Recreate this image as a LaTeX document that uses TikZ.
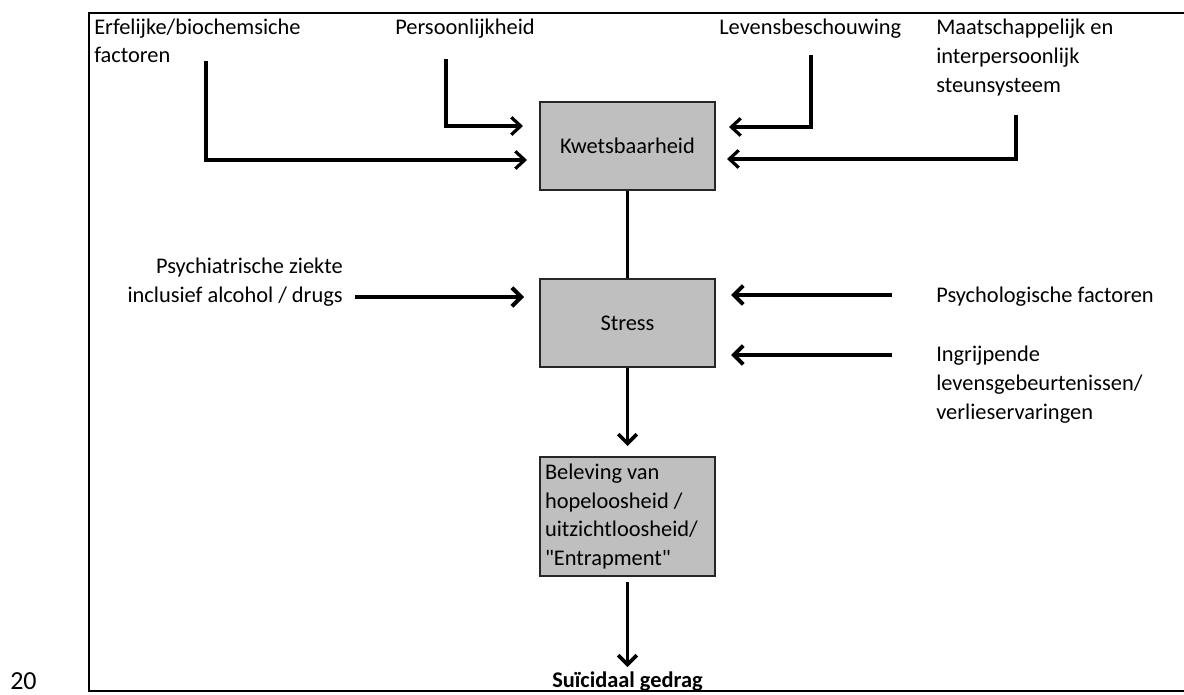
\documentclass[tikz,border=0pt]{standalone}
\usepackage{fontspec}
\setmainfont{Carlito}
\usetikzlibrary{arrows.meta,calc}
\begin{document}
\begin{tikzpicture}[x=0.75pt,y=-0.75pt,
  txt/.style={inner sep=0pt, font=\fontsize{16.8pt}{21.75pt}\selectfont},
  lbl/.style={txt, anchor=base west},
  lblr/.style={txt, anchor=base east},
  box/.style={draw=black!85, line width=1.5pt, fill=gray!50, minimum width=131.25pt,
    inner sep=0pt, font=\fontsize{16.8pt}{21.75pt}\selectfont},
  thinarr/.style={line width=2.4pt, -{Straight Barb[length=7pt,width=13pt]}},
  thickarr/.style={line width=3pt, -{Straight Barb[length=7pt,width=14pt]}},
  vertarr/.style={line width=2.7pt, -{Straight Barb[length=7pt,width=14pt]}}]
\useasboundingbox (0,0) rectangle (1184,695);
\fill[white] (0,0) rectangle (1184,695);
% frame
\draw[line width=1.5pt] (89,13) rectangle (1195,691);
% boxes
\node[box, minimum height=66pt] (kwets) at (627.5,146) {Kwetsbaarheid};
\node[box, minimum height=66pt] (stress) at (627.5,323) {Stress};
\node[box, minimum height=89.25pt, text width=123.75pt, inner xsep=3.75pt, align=flush left,
  font=\fontsize{16.8pt}{21.4pt}\selectfont] (bel) at (627.5,516.5)
  {Beleving van\\hopeloosheid /\\uitzichtloosheid/\\\textquotedbl Entrapment\textquotedbl};
\node[txt, anchor=base, font=\fontsize{16.8pt}{21.75pt}\selectfont\bfseries] (suic) at (627.5,687) {Suïcidaal gedrag};
% labels
\node[lbl] (erf1) at (94,35) {Erfelijke/biochemsiche};
\node[lbl] (erf2) at (94,63) {factoren};
\node[lbl] (per) at (395,35) {Persoonlijkheid};
\node[lbl] (lev) at (719,35) {Levensbeschouwing};
\node[lbl] (maa1) at (936,35) {Maatschappelijk en};
\node[lbl] (maa2) at (936,64) {interpersoonlijk};
\node[lbl] (maa3) at (936,93) {steunsysteem};
\node[lblr] (psy1) at (343,273) {Psychiatrische ziekte};
\node[lblr] (psy2) at (343,302) {inclusief alcohol / drugs};
\node[lbl] (psl) at (936,302) {Psychologische factoren};
\node[lbl] (ing1) at (936,361) {Ingrijpende};
\node[lbl] (ing2) at (936,390) {levensgebeurtenissen/};
\node[lbl] (ing3) at (936,419) {verlieservaringen};
\node[inner sep=0pt, anchor=base west, font=\fontsize{19.5pt}{23pt}\selectfont] (pnum) at (10,689) {20};
% start points
\coordinate (erfS) at (206,61);
\coordinate (perS) at (446,59);
\coordinate (levS) at (811,55);
\coordinate (maaS) at (1016,115);
\coordinate (psyS) at (355,297);
\coordinate (pslS) at (892,295);
\coordinate (ingS) at (892,355);
% connectors
\draw[thinarr] (erfS) |- ($(kwets.west)+(-12,14)$);
\draw[thinarr] (perS) |- ($(kwets.west)+(-16,-20)$);
\draw[thinarr] (levS) |- ($(kwets.east)+(13,-19)$);
\draw[thinarr] (maaS) |- ($(kwets.east)+(11,13)$);
\draw[thickarr] (psyS) -- ($(stress.west)+(-15,-26)$);
\draw[thickarr] (pslS) -- ($(stress.east)+(15,-28)$);
\draw[thickarr] (ingS) -- ($(stress.east)+(15,32)$);
\draw[line width=2.6pt] (kwets) -- (stress);
\draw[vertarr, shorten >=7.5pt] (stress) -- (bel);
\draw[vertarr, shorten <=3.75pt, shorten >=3pt] (bel) -- (suic);
\end{tikzpicture}
\end{document}
